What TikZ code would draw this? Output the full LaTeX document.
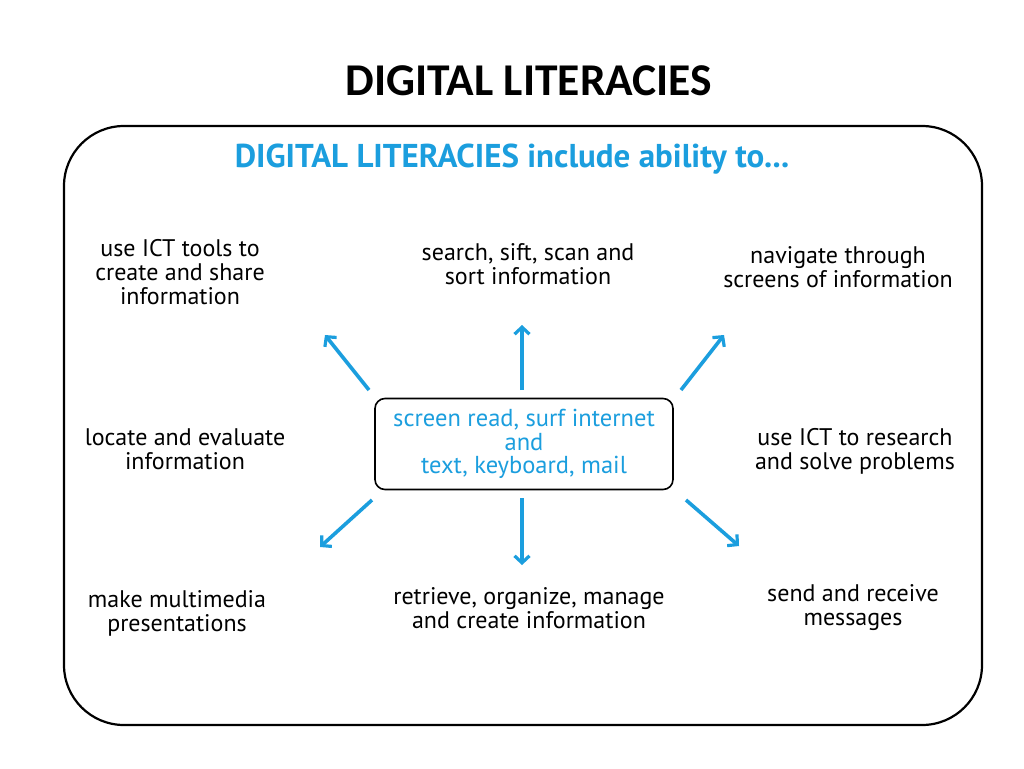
\documentclass[tikz,border=0pt]{standalone}
\usepackage{fontspec}
\setmainfont{PT Sans}
\newfontfamily\titlefont{Carlito}
\usetikzlibrary{arrows.meta}
\definecolor{dlblue}{RGB}{27,158,222}
\tikzset{
  item/.style={align=center, font=\fontsize{24}{24}\selectfont, text=black, inner sep=0pt},
  hub/.style={draw=black, line width=1.6pt, rounded corners=10pt, minimum width=298pt, minimum height=91pt, align=center, text=dlblue, font=\fontsize{24.5}{23.5}\selectfont, inner sep=0pt},
  ray/.style={draw=dlblue, line width=3.6pt, -{Straight Barb[length=7pt,width=15pt,line width=3.2pt]}},
  frame/.style={draw=black, line width=2.2pt, rounded corners=60pt}
}
\begin{document}
\begin{tikzpicture}[x=1pt,y=-1pt]
\useasboundingbox (0,0) rectangle (1024,768);
\fill[white] (0,0) rectangle (1024,768);
\node[font=\titlefont\bfseries\fontsize{45.5}{47}\selectfont, inner sep=0pt] (title) at (529,81) {DIGITAL LITERACIES};
\draw[frame] (64,126) rectangle (982,725);
\node[font=\bfseries\fontsize{33}{35}\selectfont, text=dlblue, inner sep=0pt] (head) at (512,159) {DIGITAL LITERACIES include ability to...};
\node[hub] (hub) at (524,444) {screen read, surf internet\\and\\text, keyboard, mail};
\node[item] (ul) at (180,272) {use ICT tools to\\create and share\\information};
\node[item] (uc) at (528,264) {search, sift, scan and\\sort information};
\node[item] (ur) at (838,267) {navigate through\\screens of information};
\node[item] (ml) at (185,449) {locate and evaluate\\information};
\node[item] (mr) at (855,451) {use ICT to research\\and solve problems};
\node[item] (ll) at (177,613) {make multimedia\\presentations};
\node[item] (lc) at (529,608) {retrieve, organize, manage\\and create information};
\node[item] (lr) at (853,608) {send and receive\\messages};
\coordinate (ulS) at (369,390); \coordinate (ulE) at (325,335);
\coordinate (ucS) at (522,390); \coordinate (ucE) at (522,325);
\coordinate (urS) at (681,390); \coordinate (urE) at (724,335);
\coordinate (llS) at (372,500); \coordinate (llE) at (320,547);
\coordinate (lcS) at (522,498); \coordinate (lcE) at (522,565);
\coordinate (lrS) at (686,500); \coordinate (lrE) at (739,546);
\draw[ray] (ulS) -- (ulE);
\draw[ray] (ucS) -- (ucE);
\draw[ray] (urS) -- (urE);
\draw[ray] (llS) -- (llE);
\draw[ray] (lcS) -- (lcE);
\draw[ray] (lrS) -- (lrE);
\end{tikzpicture}
\end{document}
